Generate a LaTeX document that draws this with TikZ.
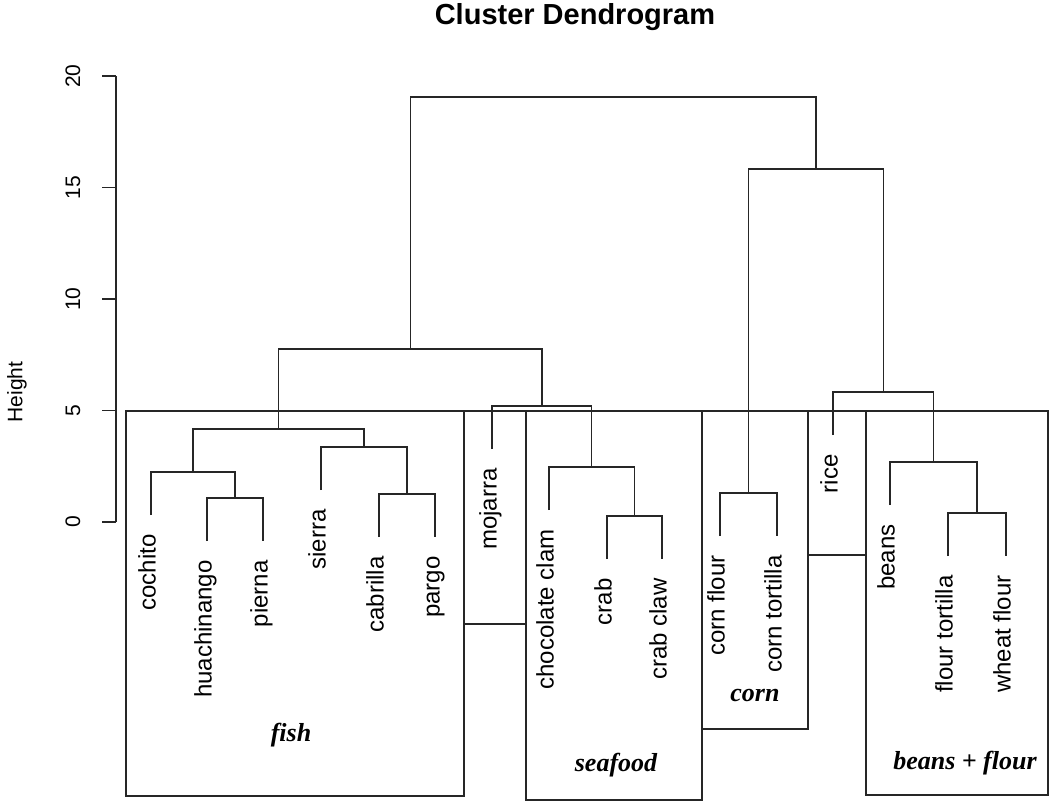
\documentclass[tikz,border=0pt]{standalone}
\usepackage{fontspec}
\setmainfont{Liberation Serif}
\setsansfont{Liberation Sans}
\usetikzlibrary{calc}

\tikzset{
	branch/.style={line width=0.7pt, black!85},
	clusterbox/.style={line width=0.9pt, black!85},
	leaf/.style={rotate=90, anchor=mid east, inner sep=0pt, font=\sffamily\fontsize{12}{14}\selectfont},
	axislabel/.style={rotate=90, inner sep=0pt, font=\sffamily\fontsize{10.5}{12}\selectfont},
	group/.style={inner sep=0pt, font=\bfseries\itshape\fontsize{13}{15}\selectfont}
}

\begin{document}
\begin{tikzpicture}[x=0.5pt, y=-0.5pt]
	\def \hang {43}
	\def \gap {19}
	\def \unit {22.3}

	\useasboundingbox (0,0) rectangle (1050,803);

	\node[font=\sffamily\bfseries\fontsize{14.5}{17}\selectfont] (title) at (575,17) {Cluster Dendrogram};
	\node[axislabel] (height) at (17,392) {Height};

	% axis
	\coordinate (axtop) at (116,{522-20*\unit});
	\coordinate (axbot) at (116,522);
	\draw[branch] (axbot) -- (axtop);
	\foreach \v in {0,5,...,20} {
		\draw[branch] (116,{522-\v*\unit}) -- (102,{522-\v*\unit});
		\node[axislabel] (tick\v) at (73,{522-\v*\unit}) {\v};
	}

	% merge points
	\coordinate (hp)   at (235,498);
	\coordinate (chp)  at (193,472);
	\coordinate (cp)   at (407,494);
	\coordinate (scp)  at (364,447);
	\coordinate (fish) at (278.5,429);
	\coordinate (cc)   at (634.5,516);
	\coordinate (ccc)  at (591.75,467);
	\coordinate (moj)  at (541.9,406);
	\coordinate (left) at (410.2,349);
	\coordinate (corn) at (748.5,493);
	\coordinate (ft)   at (977,513);
	\coordinate (bft)  at (933.5,462);
	\coordinate (rb)   at (883.25,392);
	\coordinate (right) at (815.9,169);
	\coordinate (root) at (613,97);

	% leaves
	\coordinate (cochito)    at (151,{472+\hang});
	\coordinate (huachinango) at (207,{498+\hang});
	\coordinate (pierna)     at (263,{498+\hang});
	\coordinate (sierra)     at (321,{447+\hang});
	\coordinate (cabrilla)   at (379,{494+\hang});
	\coordinate (pargo)      at (435,{494+\hang});
	\coordinate (mojarra)    at (492,{406+\hang});
	\coordinate (chocclam)   at (549,{467+\hang});
	\coordinate (crab)       at (607,{516+\hang});
	\coordinate (crabclaw)   at (662,{516+\hang});
	\coordinate (cornflour)  at (720,{493+\hang});
	\coordinate (corntort)   at (777,{493+\hang});
	\coordinate (rice)       at (833,{392+\hang});
	\coordinate (beans)      at (890,{462+\hang});
	\coordinate (flourtort)  at (948,{513+\hang});
	\coordinate (wheat)      at (1006,{513+\hang});

	\node[leaf] (l1)  at ($(cochito)+(0,\gap)$) {cochito};
	\node[leaf] (l2)  at ($(huachinango)+(0,\gap)$) {huachinango};
	\node[leaf] (l3)  at ($(pierna)+(0,\gap)$) {pierna};
	\node[leaf] (l4)  at ($(sierra)+(0,\gap)$) {sierra};
	\node[leaf] (l5)  at ($(cabrilla)+(0,\gap)$) {cabrilla};
	\node[leaf] (l6)  at ($(pargo)+(0,\gap)$) {pargo};
	\node[leaf] (l7)  at ($(mojarra)+(0,\gap)$) {mojarra};
	\node[leaf] (l8)  at ($(chocclam)+(0,\gap)$) {chocolate clam};
	\node[leaf] (l9)  at ($(crab)+(0,\gap)$) {crab};
	\node[leaf] (l10) at ($(crabclaw)+(0,\gap)$) {crab claw};
	\node[leaf] (l11) at ($(cornflour)+(0,\gap)$) {corn flour};
	\node[leaf] (l12) at ($(corntort)+(0,\gap)$) {corn tortilla};
	\node[leaf] (l13) at ($(rice)+(0,\gap)$) {rice};
	\node[leaf] (l14) at ($(beans)+(0,\gap)$) {beans};
	\node[leaf] (l15) at ($(flourtort)+(0,\gap)$) {flour tortilla};
	\node[leaf] (l16) at ($(wheat)+(0,\gap)$) {wheat flour};

	% branches
	\draw[branch] (huachinango) |- (hp) -| (pierna);
	\draw[branch] (cochito) |- (chp) -| (hp);
	\draw[branch] (cabrilla) |- (cp) -| (pargo);
	\draw[branch] (sierra) |- (scp) -| (cp);
	\draw[branch] (chp) |- (fish) -| (scp);
	\draw[branch] (crab) |- (cc) -| (crabclaw);
	\draw[branch] (chocclam) |- (ccc) -| (cc);
	\draw[branch] (mojarra) |- (moj) -| (ccc);
	\draw[branch] (fish) |- (left) -| (moj);
	\draw[branch] (cornflour) |- (corn) -| (corntort);
	\draw[branch] (flourtort) |- (ft) -| (wheat);
	\draw[branch] (beans) |- (bft) -| (ft);
	\draw[branch] (rice) |- (rb) -| (bft);
	\draw[branch] (corn) |- (right) -| (rb);
	\draw[branch] (left) |- (root) -| (right);

	% cluster boxes
	\draw[clusterbox] (126,411) rectangle (464,796);
	\draw[clusterbox] (464,411) rectangle (526,624);
	\draw[clusterbox] (526,411) rectangle (702,800);
	\draw[clusterbox] (702,411) rectangle (808,729);
	\draw[clusterbox] (808,411) rectangle (866,555);
	\draw[clusterbox] (866,411) rectangle (1048,795);

	\node[group] (gfish)    at (291,735) {fish};
	\node[group] (gseafood) at (616,765) {seafood};
	\node[group] (gcorn)    at (755,695) {corn};
	\node[group] (gbeans)   at (965,763) {beans + flour};
\end{tikzpicture}
\end{document}
